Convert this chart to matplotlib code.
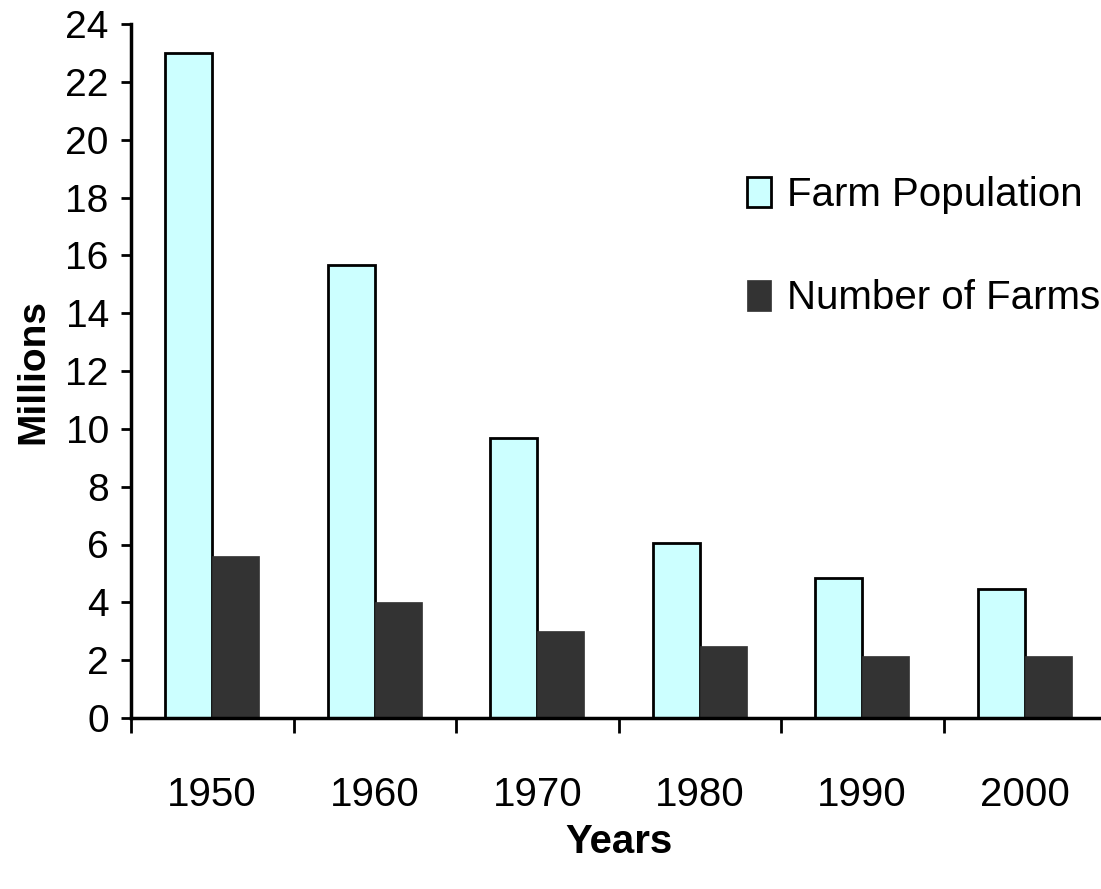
import matplotlib.pyplot as plt
import numpy as np

years = ["1950", "1960", "1970", "1980", "1990", "2000"]
farm_population = [23.0, 15.65, 9.7, 6.05, 4.85, 4.45]
number_of_farms = [5.6, 4.0, 3.0, 2.5, 2.15, 2.15]

narrow = ["Liberation Sans Narrow", "Liberation Sans", "DejaVu Sans"]
plt.rcParams['font.family'] = ["Liberation Sans", "DejaVu Sans"]

fig = plt.figure(figsize=(11.01, 8.89), dpi=100)
ax = fig.add_axes([131 / 1101, 1 - 718 / 889, 975 / 1101, 694 / 889])

x = np.arange(len(years))
w = 0.29
ax.bar(x - w / 2, farm_population, w, color="#CCFFFF", edgecolor="black",
       linewidth=2, label="Farm Population", zorder=2)
ax.bar(x + w / 2, number_of_farms, w, color="#333333", edgecolor="#333333",
       linewidth=0.5, label="Number of Farms", zorder=2)

ax.set_xlim(-0.5, len(years) - 0.5)
ax.set_ylim(0, 24)
ax.set_yticks(range(0, 25, 2))
ax.tick_params(axis="y", direction="out", length=7, width=2, pad=9, labelsize=28)

# tick marks between categories, labels in the middle
ax.set_xticks(np.arange(len(years) + 1) - 0.5)
ax.set_xticklabels([])
ax.tick_params(axis="x", which="major", direction="out", length=11, width=2)
ax.set_xticks(x, minor=True)
ax.set_xticklabels(years, minor=True, family=narrow, fontsize=29)
ax.tick_params(axis="x", which="minor", length=0, pad=42)

for s in ["top", "right"]:
    ax.spines[s].set_visible(False)
for s in ["left", "bottom"]:
    ax.spines[s].set_linewidth(2.5)

ax.set_ylabel("Millions", fontsize=28, fontweight="bold", labelpad=10)
ax.set_xlabel("Years", fontsize=29, fontweight="bold", family=narrow, labelpad=6)

ax.legend(loc="upper left", bbox_to_anchor=(747 / 1101, 1 - 176 / 889),
          bbox_transform=fig.transFigure, frameon=False,
          prop={"family": narrow, "size": 29}, handlelength=0.6,
          handleheight=0.8, handletextpad=0.4, labelspacing=1.62,
          borderaxespad=0, borderpad=0)

fig.savefig("out.png", dpi=100)
